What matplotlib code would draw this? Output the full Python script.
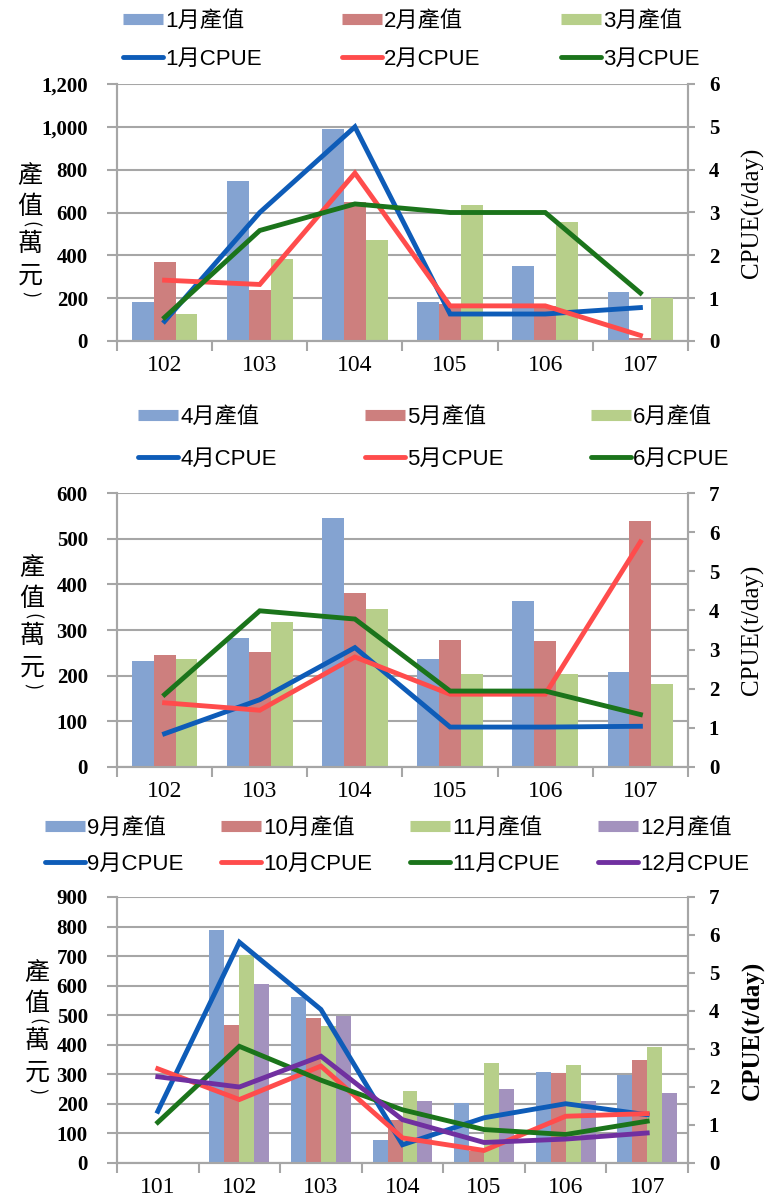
import numpy as np
import matplotlib
matplotlib.use("Agg")
import matplotlib.pyplot as plt
from matplotlib.lines import Line2D
from matplotlib.ticker import FuncFormatter

# Farben (Excel-Stil)
BAR_COLORS = ["#84A3D1", "#CD7F7E", "#B7CF8A", "#A392BE"]
LINE_COLORS = ["#0E5CB8", "#FF4C4C", "#1B741B", "#7030A0"]
GRID = "#A6A6A6"

CJK = ["Liberation Sans", "Noto Sans CJK TC"]
SERIF = "Liberation Serif"

# ---------------- Daten Panel 1: 1-3月 ----------------
years_1 = ["102", "103", "104", "105", "106", "107"]
months_1 = ["1月", "2月", "3月"]
value_jan = [180, 745, 990, 180, 350, 230]
value_feb = [370, 240, 650, 175, 165, 15]
value_mar = [125, 385, 470, 635, 555, 200]
cpue_jan = [0.46, 3.0, 5.0, 0.63, 0.63, 0.78]
cpue_feb = [1.42, 1.32, 3.92, 0.82, 0.82, 0.13]
cpue_mar = [0.55, 2.58, 3.2, 3.0, 3.0, 1.12]

# ---------------- Daten Panel 2: 4-6月 ----------------
years_2 = ["102", "103", "104", "105", "106", "107"]
months_2 = ["4月", "5月", "6月"]
value_apr = [232, 283, 546, 237, 363, 207]
value_may = [245, 252, 381, 279, 277, 539]
value_jun = [236, 317, 345, 204, 203, 181]
cpue_apr = [0.85, 1.72, 3.05, 1.02, 1.02, 1.04]
cpue_may = [1.64, 1.45, 2.81, 1.86, 1.86, 5.75]
cpue_jun = [1.85, 3.99, 3.78, 1.94, 1.94, 1.34]

# ---------------- Daten Panel 3: 9-12月 ----------------
years_3 = ["101", "102", "103", "104", "105", "106", "107"]
months_3 = ["9月", "10月", "11月", "12月"]
value_sep = [np.nan, 788, 561, 79, 203, 308, 297]
value_oct = [np.nan, 466, 491, 145, 40, 306, 348]
value_nov = [np.nan, 703, 465, 245, 339, 332, 393]
value_dec = [np.nan, 605, 497, 210, 252, 209, 238]
cpue_sep = [1.36, 5.81, 4.04, 0.48, 1.19, 1.56, 1.27]
cpue_oct = [2.48, 1.67, 2.55, 0.66, 0.33, 1.23, 1.30]
cpue_nov = [1.07, 3.07, 2.18, 1.40, 0.88, 0.75, 1.10]
cpue_dec = [2.27, 2.00, 2.81, 1.14, 0.54, 0.63, 0.79]

W, H = 774, 1200
LEFT, RIGHT = 117, 688


def fx(px):
    return px / W


def fy(py):
    return 1 - py / H


def panel(fig, top, bot, years, months, values, cpues, ymax, ystep, y2max,
          group, leg_x, leg_y, colspace, rowspace, lab_y, lab_x,
          bold_right=False):
    ax = fig.add_axes([fx(LEFT), fy(bot), fx(RIGHT - LEFT), (bot - top) / H])
    ax2 = ax.twinx()
    n = len(years)
    k = len(months)
    x = np.arange(n)
    bw = group / k
    handles, labels = [], []
    for j in range(k):
        off = (j - (k - 1) / 2) * bw
        ax.bar(x + off, values[j], width=bw, color=BAR_COLORS[j], zorder=2)
        ax2.plot(x, cpues[j], color=LINE_COLORS[j], lw=3.5,
                 solid_joinstyle="miter", zorder=3)
        handles.append(Line2D([], [], color=BAR_COLORS[j], lw=8,
                              solid_capstyle="butt"))
        labels.append(months[j] + "產值")
        handles.append(Line2D([], [], color=LINE_COLORS[j], lw=3.5,
                              solid_capstyle="round"))
        labels.append(months[j] + "CPUE")

    ax.set_xlim(-0.5, n - 0.5)
    ax.set_ylim(0, ymax)
    ax.set_yticks(np.arange(0, ymax + 1, ystep))
    ax.yaxis.set_major_formatter(FuncFormatter(lambda v, p: f"{int(v):,}"))
    ax2.set_ylim(0, y2max)
    ax2.set_yticks(np.arange(0, y2max + 1, 1))

    ax.set_xticks(x)
    ax.set_xticklabels(years, fontfamily=SERIF, fontsize=17)
    ax.set_xticks(np.arange(-0.5, n, 1), minor=True)
    ax.tick_params(axis="x", which="major", length=0, pad=10)
    ax.tick_params(axis="x", which="minor", length=7, width=1.5, color=GRID)
    ax.tick_params(axis="y", length=7, width=1.5, color=GRID, pad=14)
    ax2.tick_params(axis="y", length=5, width=1.5, color=GRID, pad=10)
    for t in ax.get_yticklabels() + ax2.get_yticklabels():
        t.set_fontfamily(SERIF)
        t.set_fontweight("bold")
        t.set_fontsize(15)

    ax.grid(axis="y", color=GRID, lw=1.5, zorder=0)
    ax.set_axisbelow(True)
    for a in (ax, ax2):
        a.spines["top"].set_visible(False)
        for s in ("left", "right", "bottom"):
            a.spines[s].set_color(GRID)
            a.spines[s].set_linewidth(1.5)

    fig.legend(handles, labels, ncol=k, loc="upper left",
               bbox_to_anchor=(fx(leg_x), fy(leg_y)), frameon=False,
               prop={"family": CJK, "size": 16}, handlelength=1.8,
               handletextpad=0.1, columnspacing=colspace,
               labelspacing=rowspace, borderpad=0, borderaxespad=0)

    # vertikale Achsenbeschriftung 產值(萬元)
    chars = [("產", 0, 0), ("值", 31, 0), ("(", 48, -90), ("萬", 68, 0),
             ("元", 100, 0), (")", 118, -90)]
    for ch, dy, rot in chars:
        fig.text(fx(lab_x), fy(lab_y + dy), ch, ha="center", va="center",
                 rotation=rot, fontsize=18 if rot == 0 else 13,
                 family=["Noto Sans CJK TC"])

    fig.text(fx(752), fy((top + bot) / 2), "CPUE(t/day)", rotation=90,
             ha="center", va="center", fontfamily=SERIF, fontsize=18,
             fontweight="bold" if bold_right else "normal")


fig = plt.figure(figsize=(7.74, 12), dpi=100)

panel(fig, 84, 341, years_1, months_1,
      [value_jan, value_feb, value_mar], [cpue_jan, cpue_feb, cpue_mar],
      1200, 200, 6, 0.69, 123, 11, 3.6, 0.75, 176, 30)
panel(fig, 493, 767, years_2, months_2,
      [value_apr, value_may, value_jun], [cpue_apr, cpue_may, cpue_jun],
      600, 100, 7, 0.69, 138, 407, 3.95, 0.95, 568, 32)
panel(fig, 897, 1163, years_3, months_3,
      [value_sep, value_oct, value_nov, value_dec],
      [cpue_sep, cpue_oct, cpue_nov, cpue_dec],
      900, 100, 7, 0.735, 45, 818, 1.7, 0.68, 973, 37, bold_right=True)

fig.savefig("out.png", dpi=100)
